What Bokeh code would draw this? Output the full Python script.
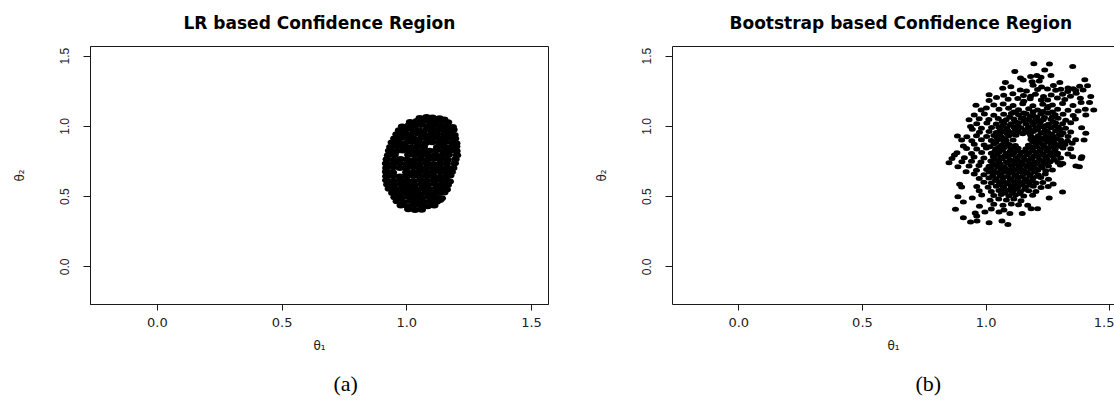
from bokeh.plotting import figure
from bokeh.models import LinearAxis, Title, FixedTicker, Range1d, PrintfTickFormatter
from bokeh.layouts import row
from bokeh.embed import file_html
from bokeh.resources import INLINE

# ---------------- data ----------------
tick_values = [0.0, 0.5, 1.0, 1.5]
axis_start = -0.268
axis_end = 1.568
right_panel_x_end = 1.519   # the reference crops the right panel at the image edge

# LR based region (dense blob)
lr_theta1 = [
    1.052, 1.079, 1.103, 1.131, 1.150,
    1.013, 1.040, 1.063, 1.091, 1.117, 1.141, 1.165,
    0.981, 1.007, 1.033, 1.057, 1.085, 1.110, 1.137, 1.161, 1.184,
    0.969, 0.996, 1.025, 1.050, 1.079, 1.104, 1.133, 1.158, 1.187,
    0.959, 0.987, 1.013, 1.042, 1.067, 1.096, 1.121, 1.150, 1.175, 1.191,
    0.950, 0.976, 1.005, 1.030, 1.059, 1.084, 1.113, 1.138, 1.167, 1.193,
    0.940, 0.968, 0.993, 1.022, 1.047, 1.076, 1.101, 1.130, 1.155, 1.184, 1.198,
    0.934, 0.961, 0.988, 1.014, 1.042, 1.068, 1.122, 1.149, 1.175, 1.198,
    0.929, 0.957, 0.983, 1.011, 1.037, 1.064, 1.091, 1.118, 1.146, 1.172, 1.199,
    0.925, 0.951, 1.006, 1.032, 1.060, 1.086, 1.114, 1.140, 1.168, 1.201,
    0.920, 0.948, 0.975, 1.001, 1.029, 1.055, 1.083, 1.109, 1.137, 1.163, 1.195,
    0.917, 0.944, 0.971, 0.998, 1.025, 1.052, 1.079, 1.106, 1.133, 1.160, 1.192,
    0.918, 0.945, 0.972, 0.999, 1.026, 1.053, 1.080, 1.107, 1.134, 1.161, 1.186,
    0.917, 0.944, 0.998, 1.025, 1.052, 1.079, 1.106, 1.133, 1.158, 1.180,
    0.918, 0.945, 0.972, 0.999, 1.026, 1.053, 1.080, 1.107, 1.134, 1.160, 1.174,
    0.918, 0.946, 0.973, 1.000, 1.027, 1.054, 1.081, 1.108, 1.135, 1.160, 1.172,
    0.922, 0.949, 0.976, 1.003, 1.030, 1.057, 1.084, 1.111, 1.138, 1.164,
    0.928, 0.955, 0.982, 1.009, 1.036, 1.063, 1.090, 1.117, 1.143, 1.160,
    0.942, 0.968, 0.995, 1.022, 1.049, 1.076, 1.103, 1.130, 1.150,
    0.951, 0.978, 1.005, 1.032, 1.059, 1.086, 1.113, 1.140,
    0.960, 0.987, 1.014, 1.041, 1.068, 1.095, 1.120, 1.133,
    0.976, 1.003, 1.030, 1.057, 1.084, 1.110,
    1.006, 1.033, 1.060,
]
lr_theta2 = [
    1.060, 1.066, 1.063, 1.058, 1.049,
    1.031, 1.038, 1.034, 1.036, 1.033, 1.037, 1.029,
    0.998, 1.006, 1.004, 1.009, 1.003, 1.007, 1.002, 1.006, 0.996,
    0.972, 0.978, 0.975, 0.971, 0.977, 0.974, 0.979, 0.973, 0.976,
    0.944, 0.947, 0.942, 0.948, 0.945, 0.941, 0.946, 0.944, 0.949, 0.938,
    0.913, 0.918, 0.915, 0.911, 0.917, 0.914, 0.919, 0.912, 0.916, 0.914,
    0.884, 0.887, 0.882, 0.889, 0.885, 0.881, 0.886, 0.884, 0.888, 0.883, 0.879,
    0.853, 0.858, 0.855, 0.851, 0.857, 0.854, 0.852, 0.856, 0.853, 0.857,
    0.826, 0.822, 0.828, 0.824, 0.827, 0.821, 0.826, 0.829, 0.823, 0.827, 0.824,
    0.794, 0.798, 0.797, 0.795, 0.799, 0.793, 0.796, 0.791, 0.798, 0.794,
    0.766, 0.762, 0.768, 0.764, 0.761, 0.767, 0.763, 0.769, 0.765, 0.762, 0.766,
    0.736, 0.733, 0.738, 0.731, 0.737, 0.734, 0.739, 0.732, 0.736, 0.733, 0.737,
    0.704, 0.708, 0.703, 0.706, 0.709, 0.702, 0.707, 0.705, 0.701, 0.706, 0.703,
    0.676, 0.672, 0.674, 0.671, 0.678, 0.673, 0.676, 0.679, 0.672, 0.675,
    0.644, 0.648, 0.643, 0.646, 0.649, 0.642, 0.647, 0.645, 0.641, 0.646, 0.650,
    0.616, 0.612, 0.617, 0.614, 0.611, 0.618, 0.613, 0.616, 0.619, 0.612, 0.608,
    0.586, 0.582, 0.588, 0.584, 0.581, 0.587, 0.583, 0.589, 0.585, 0.582,
    0.556, 0.552, 0.558, 0.554, 0.551, 0.557, 0.553, 0.556, 0.559, 0.551,
    0.526, 0.522, 0.528, 0.524, 0.521, 0.527, 0.523, 0.526, 0.529,
    0.496, 0.492, 0.498, 0.494, 0.491, 0.497, 0.493, 0.488,
    0.466, 0.462, 0.468, 0.464, 0.461, 0.467, 0.463, 0.475,
    0.436, 0.432, 0.438, 0.434, 0.431, 0.437,
    0.409, 0.405, 0.407,
]

# Bootstrap based region (scattered cloud: outer and middle points)
boot_theta1 = [
    1.193, 1.256, 1.350,
    1.116, 1.237,
    1.180, 1.205, 1.262, 1.139, 1.222,
    1.078, 1.150, 1.215, 1.298, 1.399, 1.186,
    1.100, 1.190, 1.224, 1.272, 1.331, 1.378, 1.410, 1.352,
    1.067, 1.138, 1.163, 1.248, 1.281, 1.302, 1.330, 1.362, 1.392, 1.208,
    1.012, 1.042, 1.071, 1.108, 1.151, 1.199, 1.232, 1.263, 1.309, 1.341, 1.364, 1.423, 1.180,
    1.012, 1.089, 1.128, 1.178, 1.249, 1.288, 1.318, 1.381, 1.418, 1.223, 1.152,
    0.959, 1.001, 1.031, 1.069, 1.109, 1.148, 1.189, 1.229, 1.268, 1.309, 1.351, 1.384, 1.251,
    0.980, 1.052, 1.091, 1.131, 1.172, 1.208, 1.247, 1.289, 1.331, 1.372, 1.401, 1.435, 1.112, 1.229,
    0.952, 0.993, 1.031, 1.071, 1.102, 1.131, 1.162, 1.189, 1.221, 1.251, 1.279, 1.311, 1.352, 1.403, 1.205,
    0.931, 0.972, 1.011, 1.049, 1.081, 1.112, 1.141, 1.172, 1.201, 1.231, 1.262, 1.291, 1.322, 1.361,
    0.962, 1.003, 1.041, 1.072, 1.101, 1.132, 1.161, 1.192, 1.219, 1.252, 1.281, 1.309, 1.342, 1.241,
    0.937, 0.981, 1.022, 1.051, 1.083, 1.112, 1.141, 1.171, 1.202, 1.229, 1.261, 1.292, 1.321, 1.386, 1.158,
    0.944, 0.973, 1.012, 1.041, 1.072, 1.101, 1.131, 1.162, 1.191, 1.222, 1.249, 1.281, 1.311, 1.342, 1.403, 1.265,
    0.884, 0.922, 0.961, 1.002, 1.031, 1.062, 1.091, 1.121, 1.182, 1.211, 1.242, 1.271, 1.302, 1.331, 1.396, 1.211,
    0.901, 0.942, 0.981, 1.021, 1.052, 1.081, 1.109, 1.209, 1.238, 1.269, 1.301, 1.329, 1.362, 1.348, 1.181,
    0.908, 0.952, 0.992, 1.031, 1.062, 1.093, 1.118, 1.171, 1.201, 1.231, 1.262, 1.291, 1.319,
    0.921, 0.962, 1.001, 1.039, 1.071, 1.102, 1.129, 1.161, 1.189, 1.221, 1.251, 1.279, 1.311, 1.342,
    0.882, 0.941, 0.982, 1.021, 1.052, 1.081, 1.112, 1.141, 1.172, 1.201, 1.231, 1.262, 1.289, 1.331,
    0.872, 0.912, 0.951, 0.991, 1.029, 1.061, 1.089, 1.121, 1.151, 1.182, 1.209, 1.241, 1.272, 1.301, 1.350, 1.387,
    0.862, 0.902, 0.941, 0.979, 1.019, 1.051, 1.082, 1.111, 1.139, 1.171, 1.199, 1.231, 1.259, 1.291, 1.310, 1.384,
    0.850, 0.886, 0.931, 0.971, 1.012, 1.041, 1.072, 1.101, 1.132, 1.159, 1.191, 1.221, 1.252, 1.300, 1.363, 1.377,
    0.919, 0.961, 1.002, 1.031, 1.062, 1.091, 1.121, 1.152, 1.181, 1.209, 1.241, 1.268,
    0.952, 0.991, 1.029, 1.061, 1.092, 1.121, 1.151, 1.179, 1.211, 1.239,
    0.972, 1.011, 1.041, 1.069, 1.101, 1.129, 1.161, 1.189, 1.221, 1.252,
    0.991, 1.021, 1.052, 1.081, 1.111, 1.141, 1.169, 1.201, 1.229, 1.271,
    0.893, 0.901, 0.962, 1.008, 1.041, 1.071, 1.102, 1.131, 1.159, 1.191, 1.222, 1.251,
    0.972, 1.021, 1.052, 1.079, 1.111, 1.139, 1.172, 1.201, 1.309,
    0.944, 0.982, 1.031, 1.061, 1.092, 1.119, 1.152, 1.188,
    0.886, 0.908, 1.016, 1.051, 1.082, 1.112, 1.141, 1.255,
    0.973, 1.031, 1.068, 1.102, 1.131, 1.168, 1.182, 1.208,
    0.876, 0.956, 0.995, 1.052, 1.096, 1.146, 1.021, 1.072,
    0.908, 0.962,
    0.937, 0.963, 1.012, 1.064, 1.088,
]
boot_theta2 = [
    1.445, 1.444, 1.426,
    1.390, 1.401,
    1.355, 1.362, 1.362, 1.343, 1.349,
    1.312, 1.330, 1.322, 1.312, 1.331, 1.318,
    1.282, 1.292, 1.279, 1.291, 1.273, 1.286, 1.289, 1.268,
    1.271, 1.258, 1.251, 1.266, 1.257, 1.263, 1.248, 1.255, 1.259, 1.262,
    1.224, 1.205, 1.221, 1.231, 1.219, 1.228, 1.212, 1.223, 1.229, 1.214, 1.236, 1.212, 1.214,
    1.183, 1.192, 1.198, 1.196, 1.188, 1.201, 1.191, 1.199, 1.169, 1.187, 1.178,
    1.150, 1.131, 1.152, 1.158, 1.149, 1.161, 1.147, 1.157, 1.151, 1.162, 1.148, 1.169, 1.141,
    1.117, 1.122, 1.128, 1.118, 1.125, 1.116, 1.129, 1.121, 1.115, 1.109, 1.122, 1.117, 1.101, 1.106,
    1.081, 1.088, 1.079, 1.085, 1.091, 1.083, 1.089, 1.080, 1.087, 1.093, 1.082, 1.086, 1.077, 1.081, 1.065,
    1.046, 1.053, 1.049, 1.055, 1.047, 1.052, 1.058, 1.048, 1.054, 1.046, 1.051, 1.057, 1.044, 1.052,
    1.018, 1.024, 1.016, 1.022, 1.019, 1.025, 1.017, 1.021, 1.028, 1.015, 1.023, 1.018, 1.026, 1.003,
    0.998, 0.986, 0.991, 0.994, 0.988, 0.996, 0.989, 0.993, 0.985, 0.997, 0.990, 0.994, 0.987, 0.990, 0.973,
    0.979, 0.958, 0.963, 0.956, 0.961, 0.954, 0.962, 0.957, 0.964, 0.955, 0.960, 0.966, 0.953, 0.959, 0.950, 0.944,
    0.931, 0.925, 0.933, 0.927, 0.934, 0.926, 0.931, 0.936, 0.928, 0.933, 0.925, 0.930, 0.936, 0.927, 0.902, 0.915,
    0.902, 0.897, 0.904, 0.899, 0.906, 0.898, 0.903, 0.897, 0.905, 0.899, 0.902, 0.896, 0.904, 0.879, 0.907,
    0.860, 0.872, 0.867, 0.874, 0.866, 0.871, 0.863, 0.865, 0.873, 0.868, 0.875, 0.866, 0.870,
    0.843, 0.838, 0.845, 0.840, 0.846, 0.837, 0.844, 0.841, 0.847, 0.839, 0.843, 0.836, 0.845, 0.840,
    0.812, 0.806, 0.813, 0.808, 0.815, 0.807, 0.811, 0.816, 0.809, 0.814, 0.805, 0.812, 0.808, 0.803,
    0.795, 0.776, 0.782, 0.775, 0.783, 0.778, 0.784, 0.776, 0.781, 0.777, 0.785, 0.779, 0.783, 0.774, 0.783, 0.783,
    0.771, 0.748, 0.752, 0.746, 0.753, 0.749, 0.744, 0.751, 0.747, 0.754, 0.745, 0.750, 0.748, 0.743, 0.736, 0.771,
    0.740, 0.712, 0.718, 0.722, 0.715, 0.721, 0.713, 0.719, 0.716, 0.722, 0.714, 0.720, 0.717, 0.724, 0.717, 0.712,
    0.676, 0.688, 0.692, 0.686, 0.693, 0.687, 0.691, 0.685, 0.694, 0.688, 0.683, 0.690,
    0.661, 0.656, 0.663, 0.658, 0.664, 0.655, 0.662, 0.657, 0.653, 0.660,
    0.628, 0.633, 0.626, 0.634, 0.627, 0.632, 0.625, 0.631, 0.636, 0.624,
    0.602, 0.597, 0.604, 0.598, 0.605, 0.599, 0.603, 0.596, 0.601, 0.589,
    0.588, 0.569, 0.572, 0.567, 0.574, 0.566, 0.571, 0.575, 0.568, 0.573, 0.565, 0.572,
    0.541, 0.536, 0.543, 0.538, 0.544, 0.535, 0.542, 0.537, 0.533,
    0.490, 0.512, 0.507, 0.514, 0.506, 0.511, 0.505, 0.509,
    0.498, 0.462, 0.474, 0.482, 0.476, 0.483, 0.471, 0.490,
    0.431, 0.446, 0.439, 0.447, 0.441, 0.438, 0.414, 0.414,
    0.410, 0.383, 0.390, 0.390, 0.379, 0.379, 0.412, 0.405,
    0.350, 0.362,
    0.319, 0.326, 0.314, 0.326, 0.302,
]

# Bootstrap based region (dense core points)
boot_core_theta1 = [
    1.118, 1.152, 1.190, 1.228, 1.268,
    1.095, 1.150, 1.178, 1.236, 1.268,
    1.065, 1.118, 1.155, 1.185, 1.212, 1.270,
    1.068, 1.098, 1.128, 1.188, 1.216, 1.245, 1.278,
    1.058, 1.088, 1.118, 1.178, 1.208, 1.238, 1.298,
    1.055, 1.085, 1.115, 1.148, 1.178, 1.236, 1.265, 1.296,
    1.045, 1.076, 1.198, 1.226, 1.255, 1.286,
    1.040, 1.072, 1.188, 1.216, 1.246, 1.276, 1.305,
    1.015, 1.052, 1.085, 1.115, 1.176, 1.206, 1.236, 1.266, 1.296,
    1.036, 1.066, 1.097, 1.127, 1.157, 1.187, 1.216, 1.246, 1.276,
    1.045, 1.075, 1.106, 1.136, 1.166, 1.196, 1.226, 1.256, 1.287,
    1.036, 1.066, 1.096, 1.126, 1.156, 1.186, 1.216, 1.246, 1.276,
    1.027, 1.057, 1.087, 1.117, 1.146, 1.176, 1.206, 1.236,
    1.018, 1.048, 1.077, 1.106, 1.137, 1.167, 1.196, 1.226,
    1.012, 1.045, 1.076, 1.106, 1.136, 1.166, 1.196,
    1.026, 1.056, 1.086, 1.116, 1.146, 1.176, 1.206,
    1.037, 1.067, 1.097, 1.127, 1.156, 1.186,
    1.057, 1.087, 1.117, 1.146, 1.176,
    1.067, 1.097, 1.126, 1.156,
    1.076, 1.106, 1.136,
]
boot_core_theta2 = [
    1.100, 1.095, 1.104, 1.098, 1.102,
    1.066, 1.061, 1.069, 1.063, 1.067,
    1.035, 1.031, 1.038, 1.033, 1.039, 1.032,
    1.005, 1.009, 1.002, 1.007, 1.004, 1.008, 1.001,
    0.975, 0.971, 0.978, 0.973, 0.977, 0.972, 0.976,
    0.945, 0.949, 0.942, 0.947, 0.943, 0.948, 0.944, 0.941,
    0.915, 0.911, 0.917, 0.913, 0.918, 0.912,
    0.885, 0.889, 0.891, 0.884, 0.888, 0.882, 0.887,
    0.855, 0.851, 0.858, 0.853, 0.857, 0.852, 0.856, 0.854, 0.859,
    0.825, 0.829, 0.822, 0.827, 0.823, 0.828, 0.824, 0.826, 0.821,
    0.795, 0.791, 0.798, 0.793, 0.797, 0.792, 0.796, 0.794, 0.799,
    0.765, 0.769, 0.762, 0.767, 0.763, 0.768, 0.764, 0.766, 0.761,
    0.735, 0.731, 0.738, 0.733, 0.737, 0.732, 0.736, 0.734,
    0.705, 0.709, 0.702, 0.707, 0.703, 0.708, 0.704, 0.706,
    0.675, 0.671, 0.678, 0.673, 0.677, 0.672, 0.676,
    0.645, 0.649, 0.642, 0.647, 0.643, 0.648, 0.644,
    0.615, 0.611, 0.618, 0.613, 0.617, 0.612,
    0.585, 0.589, 0.582, 0.587, 0.583,
    0.555, 0.551, 0.558, 0.553,
    0.525, 0.529, 0.522,
]

titles = ["LR based Confidence Region", "Bootstrap based Confidence Region"]
captions = ["(a)", "(b)"]
x_label = "θ₁"
y_label = "θ₂"

LINE = "#1a1a1a"


def style_axes(p):
    fmt = PrintfTickFormatter(format="%.1f")
    for ax in p.xaxis:
        ax.ticker = FixedTicker(ticks=tick_values)
        ax.formatter = fmt
        ax.axis_label = x_label
        ax.axis_label_text_font = "DejaVu Sans"
        ax.axis_label_text_font_size = "12px"
        ax.axis_label_text_font_style = "normal"
        ax.axis_label_text_color = "#222222"
        ax.axis_label_standoff = 9
        ax.major_label_text_font = "DejaVu Sans"
        ax.major_label_text_font_size = "13px"
        ax.major_label_text_color = "#222222"
        ax.major_label_standoff = 7
        ax.major_tick_out = 6
        ax.major_tick_in = 0
        ax.minor_tick_out = 0
        ax.minor_tick_in = 0
        ax.axis_line_color = LINE
        ax.major_tick_line_color = LINE
    for ax in p.yaxis:
        ax.ticker = FixedTicker(ticks=tick_values)
        ax.formatter = fmt
        ax.axis_label = y_label
        ax.axis_label_text_font = "DejaVu Sans"
        ax.axis_label_text_font_size = "12px"
        ax.axis_label_text_font_style = "normal"
        ax.axis_label_text_color = "#222222"
        ax.axis_label_standoff = 31
        ax.major_label_text_font = "Liberation Sans"
        ax.major_label_text_font_size = "12px"
        ax.major_label_text_color = "#222222"
        ax.major_label_orientation = "vertical"
        ax.major_label_standoff = 14
        ax.major_tick_out = 7
        ax.major_tick_in = 0
        ax.minor_tick_out = 0
        ax.minor_tick_in = 0
        ax.axis_line_color = LINE
        ax.major_tick_line_color = LINE
    p.xgrid.visible = False
    p.ygrid.visible = False


def make_panel(idx, xs, ys, width, border_left, border_right, x_end, title_offset,
               caption_offset, full_box, dot_w, dot_h):
    p = figure(
        width=width, height=410,
        x_range=Range1d(axis_start, x_end), y_range=Range1d(axis_start, axis_end),
        output_backend="svg", toolbar_location=None, tools="",
        min_border_left=border_left, min_border_right=border_right,
        min_border_top=46, min_border_bottom=106,
        background_fill_color="white", border_fill_color="white",
    )
    p.title = Title(text=titles[idx], align="left", offset=title_offset,
                    vertical_align="top",
                    text_font="DejaVu Sans", text_font_size="17px",
                    text_font_style="bold", text_color="black", standoff=24)
    style_axes(p)
    if full_box:
        p.outline_line_color = LINE
        p.outline_line_width = 1
    else:
        # right panel is cropped at the image edge: draw only the top edge
        p.outline_line_color = None
        top = LinearAxis(ticker=FixedTicker(ticks=[]), major_label_standoff=0,
                         major_tick_out=0, major_tick_in=0, minor_tick_out=0, minor_tick_in=0,
                         axis_line_color=LINE)
        p.add_layout(top, "above")
    p.ellipse(x=xs, y=ys, width=dot_w, height=dot_h, width_units="screen", height_units="screen",
              fill_color="black", line_color=None)
    cap = Title(text=captions[idx], align="left", offset=caption_offset,
                text_font="Liberation Serif", text_font_size="22px",
                text_font_style="normal", text_color="black", standoff=26)
    p.add_layout(cap, "below")
    return p


p1 = make_panel(0, lr_theta1, lr_theta2, 560, 90, 12, axis_end, 93, 243, True, 8.5, 6)
p2 = make_panel(1, boot_theta1 + boot_core_theta1, boot_theta2 + boot_core_theta2,
                554, 112, 0, right_panel_x_end, 57, 243, False, 7, 5)

layout = row(p1, p2)
open("out.html", "w").write(file_html(layout, INLINE))
